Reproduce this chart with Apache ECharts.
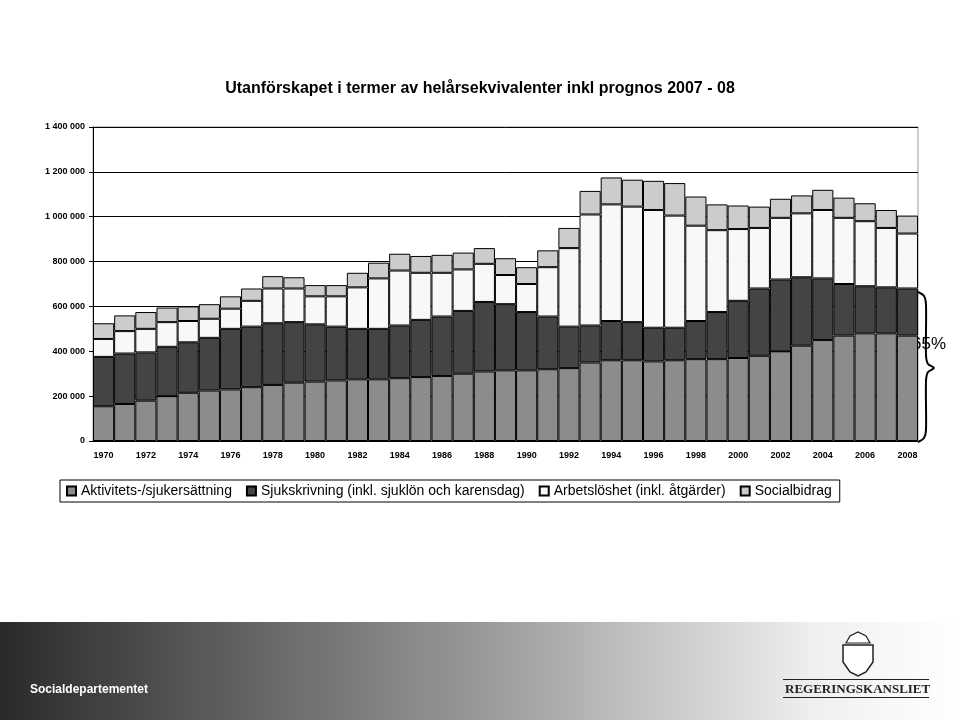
<!DOCTYPE html>
<html><head><meta charset="utf-8">
<script src="https://cdn.jsdelivr.net/npm/echarts@6/dist/echarts.min.js"></script>
<style>html,body{margin:0;padding:0;background:#fff}#c{width:960px;height:720px}</style>
</head><body><div id="c"></div>
<script>
const years = ['1970','1971','1972','1973','1974','1975','1976','1977','1978','1979','1980','1981','1982','1983','1984','1985','1986','1987','1988','1989','1990','1991','1992','1993','1994','1995','1996','1997','1998','1999','2000','2001','2002','2003','2004','2005','2006','2007','2008'];
const aktivitet = [155,165,180,200,215,225,230,240,250,260,265,270,275,275,280,285,290,300,310,315,315,320,325,350,360,360,355,360,365,365,370,380,400,425,450,470,480,480,470];
const sjukskrivning = [220,225,215,220,225,235,270,270,275,270,255,240,225,225,235,255,265,280,310,295,260,235,185,165,175,170,150,145,170,210,255,300,320,305,275,230,210,205,210];
const arbetsloshet = [80,100,105,110,95,85,90,115,155,150,125,135,185,225,245,210,195,185,170,130,125,220,350,495,520,515,525,500,425,365,320,270,275,285,305,295,290,265,245];
const socialbidrag = [70,70,75,65,65,65,55,55,55,50,50,50,65,70,75,75,80,75,70,75,75,75,90,105,120,120,130,145,130,115,105,95,85,80,90,90,80,80,80];
const seriesNames = ['Aktivitets-/sjukersättning','Sjukskrivning (inkl. sjuklön och karensdag)','Arbetslöshet (inkl. åtgärder)','Socialbidrag'];
const colors = ['#8c8c8c','#444444','#f8f8f8','#cccccc'];
const scale = v => v.map(x => x*1000);
const chart = echarts.init(document.getElementById('c'));
const mk = (name, data, i) => ({name, type:'bar', stack:'s', data:scale(data), barCategoryGap:'0%',
  itemStyle:{color:colors[i], borderColor:'#000', borderWidth:1}});
const base = {
  animation:false,
  title:{text:'Utanförskapet i termer av helårsekvivalenter inkl prognos 2007 - 08', left:'center', top:76,
    textStyle:{fontFamily:'Arial', fontSize:16, fontWeight:'bold', color:'#000'}},
  grid:{left:93, right:42, top:127, bottom:279, show:true, borderColor:'#999', borderWidth:1, backgroundColor:'transparent'},
  legend:{left:60, top:480, itemGap:14, itemWidth:9, itemHeight:9, icon:'rect', padding:[4,8,4,6],
    borderColor:'#000', borderWidth:1,
    textStyle:{fontFamily:'Arial', fontSize:14, color:'#000'}},
  xAxis:{type:'category', data:years, axisLine:{lineStyle:{color:'#000'}},
    axisTick:{length:4, lineStyle:{color:'#000'}},
    axisLabel:{interval:1, fontFamily:'Arial', fontSize:9, fontWeight:'bold', color:'#000', margin:10}},
  yAxis:{type:'value', min:0, max:1400000, interval:200000,
    axisLine:{show:true, lineStyle:{color:'#000'}}, axisTick:{show:true, length:4, lineStyle:{color:'#000'}},
    splitLine:{lineStyle:{color:'#000'}},
    axisLabel:{fontFamily:'Arial', fontSize:9, fontWeight:'bold', color:'#000', formatter:v=>String(v).replace(/\B(?=(\d{3})+(?!\d))/g,' ')}},
  series:[mk(seriesNames[0],aktivitet,0),mk(seriesNames[1],sjukskrivning,1),mk(seriesNames[2],arbetsloshet,2),mk(seriesNames[3],socialbidrag,3)]
};
try { chart.setOption(base); } catch(e) { console.error('base', e); }
const els = [
  {id:'g0',type:'rect', z:-10, shape:{x:0,y:622,width:960,height:98}, style:{fill:{type:'linear',x:0,y:0,x2:1,y2:0,colorStops:[{offset:0,color:'#2a2a2a'},{offset:0.5,color:'#999999'},{offset:0.85,color:'#f0f0f0'},{offset:1,color:'#ffffff'}]}}},
  {id:'g1',type:'polyline', shape:{points:[[918,292],[924,296],[926,305],[926,355],[928,364],[934,368],[928,372],[926,381],[926,430],[924,438],[918,442]], smooth:0.3}, style:{stroke:'#000', lineWidth:2, fill:'none'}},
  {id:'g2',type:'text', x:912, y:336, style:{text:'65%', font:'17px Arial', fill:'#000'}},
  {id:'g3',type:'text', x:30, y:684, style:{text:'Socialdepartementet', font:'bold 12px Arial', fill:'#fff'}},
  {id:'g4',type:'rect', shape:{x:783,y:679,width:146,height:1}, style:{fill:'#222'}},
  {id:'g5',type:'rect', shape:{x:783,y:697,width:146,height:1}, style:{fill:'#222'}},
  {id:'g6',type:'text', x:785, y:683, style:{text:'REGERINGSKANSLIET', font:'bold 13px "Liberation Serif"', fill:'#222'}},
  {id:'g7',type:'polygon', shape:{points:[[843,645],[873,645],[873,662],[866,672],[858,676],[850,672],[843,662]]}, style:{fill:'#fff', stroke:'#222', lineWidth:1.5}},
  {id:'g8',type:'polygon', shape:{points:[[846,643],[850,636],[858,632],[866,636],[870,643]]}, style:{fill:'#fff', stroke:'#222', lineWidth:1.2}}
];
els.forEach(el => { try { chart.setOption({graphic:{elements:[el]}}); } catch(e) { console.error(el.id, e && e.message); } });
</script></body></html>
